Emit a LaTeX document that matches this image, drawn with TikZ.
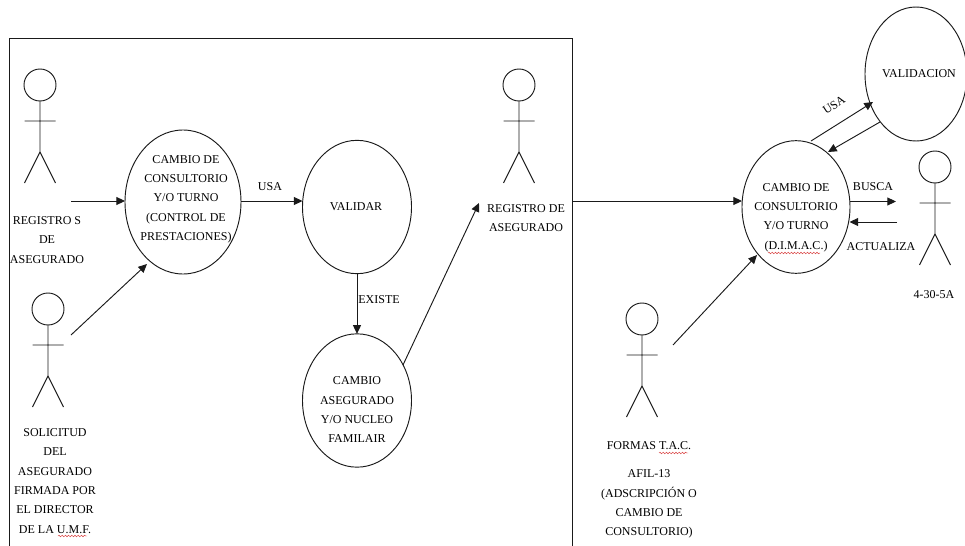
\documentclass[tikz,border=0pt]{standalone}
\usepackage{fontspec}
\setmainfont{Liberation Serif}
\usetikzlibrary{arrows.meta,shapes.geometric,decorations.pathmorphing}
\definecolor{ink}{HTML}{1A1A1A}
\definecolor{spell}{HTML}{D83A3A}
\tikzset{
  every node/.style={inner sep=0pt,outer sep=0pt,text=black},
  lbl/.style={align=center,font=\fontsize{9}{14.5}\selectfont},
  bubble/.style={draw=ink,line width=0.7pt,ellipse,minimum width=#1},
  flow/.style={draw=ink,line width=0.7pt,-{Triangle[length=6.5pt,width=6pt]}},
  wavy/.style={draw=spell,line width=0.35pt,decorate,decoration={snake,amplitude=0.6pt,segment length=2.4pt}},
  actorline/.style={draw=ink,line width=0.7pt},
  actor/.pic={
    \draw[actorline] (0,0) circle[radius=16];
    \draw[actorline] (0,16) -- (0,67) (-15.5,36) -- (15.5,36) (-15.5,98) -- (0,67) -- (15.5,98);
  }
}
\begin{document}
\begin{tikzpicture}[x=0.75pt,y=-0.75pt]
\useasboundingbox (0,0) rectangle (965,546);
\fill[white] (0,0) rectangle (965,546);
% frame
\draw[actorline] (9.5,546) -- (9.5,38.5) -- (572.5,38.5) -- (572.5,546);
% actors
\pic at (40,85) {actor};
\pic at (48,309) {actor};
\pic at (519,85) {actor};
\pic at (935,167) {actor};
\pic at (642,319) {actor};
% bubbles
\node[bubble=116*0.75pt,minimum height=108pt] (cp) at (183,202) {};
\node[bubble=109*0.75pt,minimum height=100pt] (val) at (357,207) {};
\node[bubble=109*0.75pt,minimum height=100pt] (nuc) at (357,400.5) {};
\node[bubble=108*0.75pt,minimum height=99.5pt] (dim) at (796,207) {};
\node[bubble=102*0.75pt,minimum height=100.5pt] (vld) at (916,74) {};
% bubble text
\node[lbl] (tcp) at (186,199) {CAMBIO DE\\CONSULTORIO\\Y/O TURNO\\(CONTROL DE\\PRESTACIONES)};
\node[lbl] (tval) at (356,207) {VALIDAR};
\node[lbl] (tnuc) at (357,410) {CAMBIO\\ASEGURADO\\Y/O NUCLEO\\FAMILAIR};
\node[lbl] (tdim) at (796,217.5) {CAMBIO DE\\CONSULTORIO\\Y/O TURNO\\(D.I.M.A.C.)};
\node[lbl] (tvld) at (919,74) {VALIDACION};
% actor labels
\node[lbl] (a1) at (47,240) {REGISTRO S\\DE\\ASEGURADO};
\node[lbl] (a2) at (55,481) {SOLICITUD\\DEL\\ASEGURADO\\FIRMADA POR\\EL DIRECTOR\\DE LA U.M.F.};
\node[lbl] (a3) at (526,218) {REGISTRO DE\\ASEGURADO};
\node[lbl] (a4) at (934,295) {4-30-5A};
\node[lbl] (a5) at (649,446) {FORMAS T.A.C.};
\node[lbl] (a5b) at (649,504) {AFIL-13\\(ADSCRIPCIÓN O\\CAMBIO DE\\CONSULTORIO)};
% connector free ends
\coordinate (s1) at (71,201);
\coordinate (s2) at (71,335);
\coordinate (e3) at (479,203);
\coordinate (s4) at (573,201);
\coordinate (s5) at (673,345);
\coordinate (e6) at (896,201.5);
\coordinate (s7) at (897,222);
\coordinate (p1) at (850,201.5);
\coordinate (p2) at (849.5,222);
% connectors
\draw[flow] (s1) -- (125,201);
\draw[flow] (cp.east |- s1) -- (val.west |- s1);
\draw[flow] (s2) -- (147,264);
\draw[flow] (val.south) -- (nuc.north);
\draw[flow] (403,365) -- (e3);
\draw[flow] (s4) -- (dim.west |- s4);
\draw[flow] (s5) -- (757,255);
\draw[flow] (811,141) -- (873,102);
\draw[flow] (880,122) -- (828,152);
\draw[flow] (p1) -- (e6);
\draw[flow] (s7) -- (p2);
% connector labels
\node[lbl] (l1) at (270,187) {USA};
\node[lbl] (l2) at (379,300) {EXISTE};
\node[lbl,rotate=33] (l3) at (834,105) {USA};
\node[lbl] (l4) at (873,187) {BUSCA};
\node[lbl] (l5) at (881,247) {ACTUALIZA};
% spelling underlines
\draw[wavy] (58,536) -- (87,536);
\draw[wavy] (659,453) -- (688,453);
\draw[wavy] (768,253) -- (820,253);
\end{tikzpicture}
\end{document}
